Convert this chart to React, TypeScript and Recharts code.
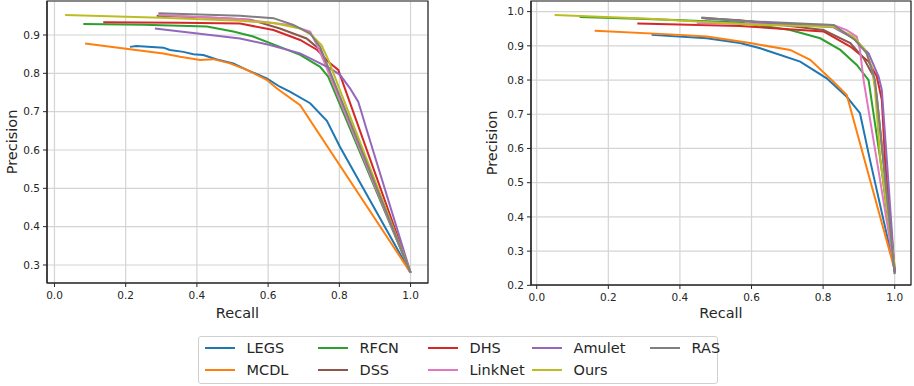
import React from 'react';
import { LineChart, Line, XAxis, YAxis, CartesianGrid, ReferenceArea, Label } from 'recharts';

type Pt = [number, number];

const SERIES_NAMES = ['LEGS', 'MCDL', 'RFCN', 'DHS', 'DSS', 'LinkNet', 'Amulet', 'Ours', 'RAS'];
const SERIES_COLORS = ['#1f77b4', '#ff7f0e', '#2ca02c', '#d62728', '#8c564b', '#e377c2', '#9467bd', '#bcbd22', '#7f7f7f'];
// legend layout order (column by column, two rows)
const LEGEND_ORDER = ['LEGS', 'MCDL', 'RFCN', 'DSS', 'DHS', 'LinkNet', 'Amulet', 'Ours', 'RAS'];

// Left panel (recall, precision)
const LEFT_LEGS: Pt[] = [[0.212, 0.869], [0.23, 0.871], [0.306, 0.867], [0.324, 0.861], [0.362, 0.856], [0.39, 0.85], [0.418, 0.848], [0.456, 0.836], [0.502, 0.826], [0.54, 0.809], [0.596, 0.787], [0.633, 0.765], [0.661, 0.752], [0.718, 0.722], [0.765, 0.676], [0.802, 0.608], [1.0, 0.28]];
const LEFT_MCDL: Pt[] = [[0.086, 0.878], [0.212, 0.863], [0.306, 0.852], [0.353, 0.843], [0.409, 0.835], [0.446, 0.837], [0.493, 0.826], [0.54, 0.809], [0.596, 0.783], [0.624, 0.761], [0.69, 0.717], [1.0, 0.28]];
const LEFT_RFCN: Pt[] = [[0.081, 0.929], [0.25, 0.927], [0.428, 0.922], [0.502, 0.909], [0.558, 0.896], [0.633, 0.869], [0.69, 0.848], [0.746, 0.817], [0.769, 0.791], [1.0, 0.28]];
const LEFT_DHS: Pt[] = [[0.137, 0.933], [0.35, 0.932], [0.521, 0.93], [0.615, 0.913], [0.69, 0.887], [0.738, 0.861], [0.769, 0.83], [0.797, 0.809], [1.0, 0.28]];
const LEFT_DSS: Pt[] = [[0.287, 0.95], [0.45, 0.945], [0.55, 0.94], [0.633, 0.917], [0.708, 0.891], [0.746, 0.861], [1.0, 0.28]];
const LEFT_LINKNET: Pt[] = [[0.292, 0.952], [0.52, 0.942], [0.66, 0.926], [0.718, 0.909], [0.735, 0.878], [0.755, 0.835], [0.8, 0.733], [1.0, 0.28]];
const LEFT_AMULET: Pt[] = [[0.282, 0.917], [0.521, 0.891], [0.605, 0.874], [0.69, 0.852], [0.738, 0.83], [0.774, 0.813], [0.802, 0.796], [0.83, 0.761], [0.853, 0.726], [0.863, 0.696], [0.877, 0.652], [1.0, 0.28]];
const LEFT_OURS: Pt[] = [[0.03, 0.952], [0.3, 0.945], [0.521, 0.937], [0.615, 0.931], [0.69, 0.917], [0.722, 0.9], [0.75, 0.874], [0.769, 0.835], [1.0, 0.28]];
const LEFT_RAS: Pt[] = [[0.292, 0.957], [0.521, 0.95], [0.615, 0.944], [0.671, 0.926], [0.718, 0.904], [0.746, 0.869], [1.0, 0.28]];

// Right panel (recall, precision)
const RIGHT_LEGS: Pt[] = [[0.321, 0.932], [0.475, 0.922], [0.568, 0.908], [0.624, 0.893], [0.736, 0.854], [0.81, 0.805], [0.866, 0.751], [0.903, 0.703], [0.931, 0.566], [1.0, 0.245]];
const RIGHT_MCDL: Pt[] = [[0.162, 0.944], [0.4, 0.932], [0.475, 0.927], [0.596, 0.908], [0.708, 0.888], [0.764, 0.859], [0.829, 0.795], [0.866, 0.756], [1.0, 0.245]];
const RIGHT_RFCN: Pt[] = [[0.12, 0.984], [0.35, 0.977], [0.568, 0.968], [0.708, 0.946], [0.792, 0.922], [0.848, 0.888], [0.894, 0.844], [0.927, 0.8], [0.96, 0.566], [1.0, 0.24]];
const RIGHT_DHS: Pt[] = [[0.281, 0.965], [0.568, 0.958], [0.801, 0.942], [0.876, 0.898], [0.927, 0.854], [0.95, 0.81], [0.964, 0.742], [0.973, 0.566], [1.0, 0.24]];
const RIGHT_DSS: Pt[] = [[0.46, 0.981], [0.568, 0.975], [0.801, 0.946], [0.876, 0.908], [0.913, 0.864], [0.941, 0.81], [0.95, 0.751], [1.0, 0.235]];
const RIGHT_LINKNET: Pt[] = [[0.447, 0.966], [0.829, 0.961], [0.866, 0.946], [0.894, 0.927], [0.903, 0.888], [0.913, 0.8], [0.95, 0.566], [1.0, 0.245]];
const RIGHT_AMULET: Pt[] = [[0.47, 0.98], [0.829, 0.954], [0.885, 0.922], [0.927, 0.878], [0.955, 0.81], [0.964, 0.771], [0.978, 0.566], [1.0, 0.24]];
const RIGHT_OURS: Pt[] = [[0.05, 0.99], [0.3, 0.98], [0.624, 0.961], [0.829, 0.956], [0.885, 0.927], [0.917, 0.888], [0.936, 0.839], [0.945, 0.771], [0.96, 0.566], [1.0, 0.255]];
const RIGHT_RAS: Pt[] = [[0.46, 0.983], [0.568, 0.973], [0.829, 0.961], [0.889, 0.917], [0.922, 0.878], [0.945, 0.8], [0.965, 0.6], [1.0, 0.233]];

const LEFT_SERIES = [LEFT_LEGS, LEFT_MCDL, LEFT_RFCN, LEFT_DHS, LEFT_DSS, LEFT_LINKNET, LEFT_AMULET, LEFT_OURS, LEFT_RAS];
const RIGHT_SERIES = [RIGHT_LEGS, RIGHT_MCDL, RIGHT_RFCN, RIGHT_DHS, RIGHT_DSS, RIGHT_LINKNET, RIGHT_AMULET, RIGHT_OURS, RIGHT_RAS];

const X_TICKS = [0, 0.2, 0.4, 0.6, 0.8, 1.0];
const LEFT_Y_TICKS = [0.3, 0.4, 0.5, 0.6, 0.7, 0.8, 0.9];
const RIGHT_Y_TICKS = [0.2, 0.3, 0.4, 0.5, 0.6, 0.7, 0.8, 0.9, 1.0];

const FONT = '"DejaVu Sans", sans-serif';
const TEXT = '#262626';
const SPINE = '#262626';

type PanelProps = {
  width: number;
  height: number;
  margin: { top: number; right: number; bottom: number; left: number };
  yAxisWidth: number;
  xAxisHeight: number;
  xDomain: [number, number];
  yDomain: [number, number];
  yTicks: number[];
  series: Pt[][];
  yLabelOffset: number;
};

function Panel(props: PanelProps) {
  const { width, height, margin, yAxisWidth, xAxisHeight, xDomain, yDomain, yTicks, series, yLabelOffset } = props;
  const tickStyle = { fontSize: 10.5, fill: TEXT, fontFamily: FONT };
  return (
    <LineChart width={width} height={height} margin={margin}>
      <CartesianGrid stroke="#d4d4d4" strokeWidth={1.2} />
      <XAxis
        type="number"
        dataKey="r"
        domain={xDomain}
        ticks={X_TICKS}
        allowDataOverflow
        height={xAxisHeight}
        tick={tickStyle}
        tickFormatter={(v: number) => v.toFixed(1)}
        tickSize={4}
        tickMargin={5}
        axisLine={{ stroke: SPINE, strokeWidth: 1.2 }}
        tickLine={{ stroke: SPINE, strokeWidth: 1 }}
      >
        <Label value="Recall" position="insideBottom" offset={12} style={{ fontSize: 14.5, fill: TEXT, fontFamily: FONT }} />
      </XAxis>
      <YAxis
        type="number"
        domain={yDomain}
        ticks={yTicks}
        allowDataOverflow
        width={yAxisWidth}
        tick={tickStyle}
        tickFormatter={(v: number) => v.toFixed(1)}
        tickSize={4}
        tickMargin={3}
        axisLine={{ stroke: SPINE, strokeWidth: 1.2 }}
        tickLine={{ stroke: SPINE, strokeWidth: 1 }}
      >
        <Label
          value="Precision"
          angle={-90}
          position="insideLeft"
          offset={yLabelOffset}
          style={{ fontSize: 14.5, fill: TEXT, fontFamily: FONT, textAnchor: 'middle' }}
        />
      </YAxis>
      <ReferenceArea
        x1={xDomain[0]}
        x2={xDomain[1]}
        y1={yDomain[0]}
        y2={yDomain[1]}
        fill="none"
        fillOpacity={0}
        stroke={SPINE}
        strokeWidth={1.2}
        ifOverflow="visible"
      />
      {series.map((pts, i) => (
        <Line
          key={SERIES_NAMES[i]}
          name={SERIES_NAMES[i]}
          data={pts.map(([r, p]) => ({ r, p }))}
          dataKey="p"
          type="linear"
          stroke={SERIES_COLORS[i]}
          strokeWidth={2}
          dot={false}
          activeDot={false}
          isAnimationActive={false}
        />
      ))}
    </LineChart>
  );
}

const LEGEND_COLS = [7, 120, 230, 334, 452];
const LEGEND_ROWS = [12, 34];

function LegendBox() {
  return (
    <div
      style={{
        position: 'absolute',
        left: 198,
        top: 336,
        width: 520,
        height: 48,
        border: '1px solid #d0d0d0',
        borderRadius: 3,
        boxSizing: 'border-box',
        background: '#fff',
      }}
    >
      {LEGEND_ORDER.map((name, i) => {
        const col = Math.floor(i / 2);
        const row = i % 2;
        const x = LEGEND_COLS[col] - 1;
        const y = LEGEND_ROWS[row] - 1;
        const color = SERIES_COLORS[SERIES_NAMES.indexOf(name)];
        return (
          <div key={name} style={{ position: 'absolute', left: x, top: y - 10, height: 20, width: 120 }}>
            <div
              style={{
                position: 'absolute',
                left: 0,
                top: 9,
                width: 30,
                height: 2,
                background: color,
              }}
            />
            <div
              style={{
                position: 'absolute',
                left: 41.5,
                top: 0,
                height: 20,
                lineHeight: '20px',
                fontSize: 14.5,
                fontFamily: FONT,
                color: TEXT,
                whiteSpace: 'nowrap',
              }}
            >
              {name}
            </div>
          </div>
        );
      })}
    </div>
  );
}

export default function App() {
  return (
    <div style={{ position: 'absolute', left: 0, top: 0, width: 914, height: 386, background: '#fff', overflow: 'hidden' }}>
      <div style={{ position: 'absolute', left: 0, top: 0 }}>
        <Panel
          width={440}
          height={330}
          margin={{ top: 1, right: 12, bottom: 0, left: 0 }}
          yAxisWidth={47}
          xAxisHeight={47}
          xDomain={[-0.021, 1.049]}
          yDomain={[0.253, 0.9887]}
          yTicks={LEFT_Y_TICKS}
          series={LEFT_SERIES}
          yLabelOffset={12}
        />
      </div>
      <div style={{ position: 'absolute', left: 460, top: 0 }}>
        <Panel
          width={454}
          height={330}
          margin={{ top: 1, right: 3, bottom: 0, left: 0 }}
          yAxisWidth={71}
          xAxisHeight={45}
          xDomain={[-0.016, 1.0455]}
          yDomain={[0.201, 1.031]}
          yTicks={RIGHT_Y_TICKS}
          series={RIGHT_SERIES}
          yLabelOffset={32}
        />
      </div>
      <LegendBox />
    </div>
  );
}
